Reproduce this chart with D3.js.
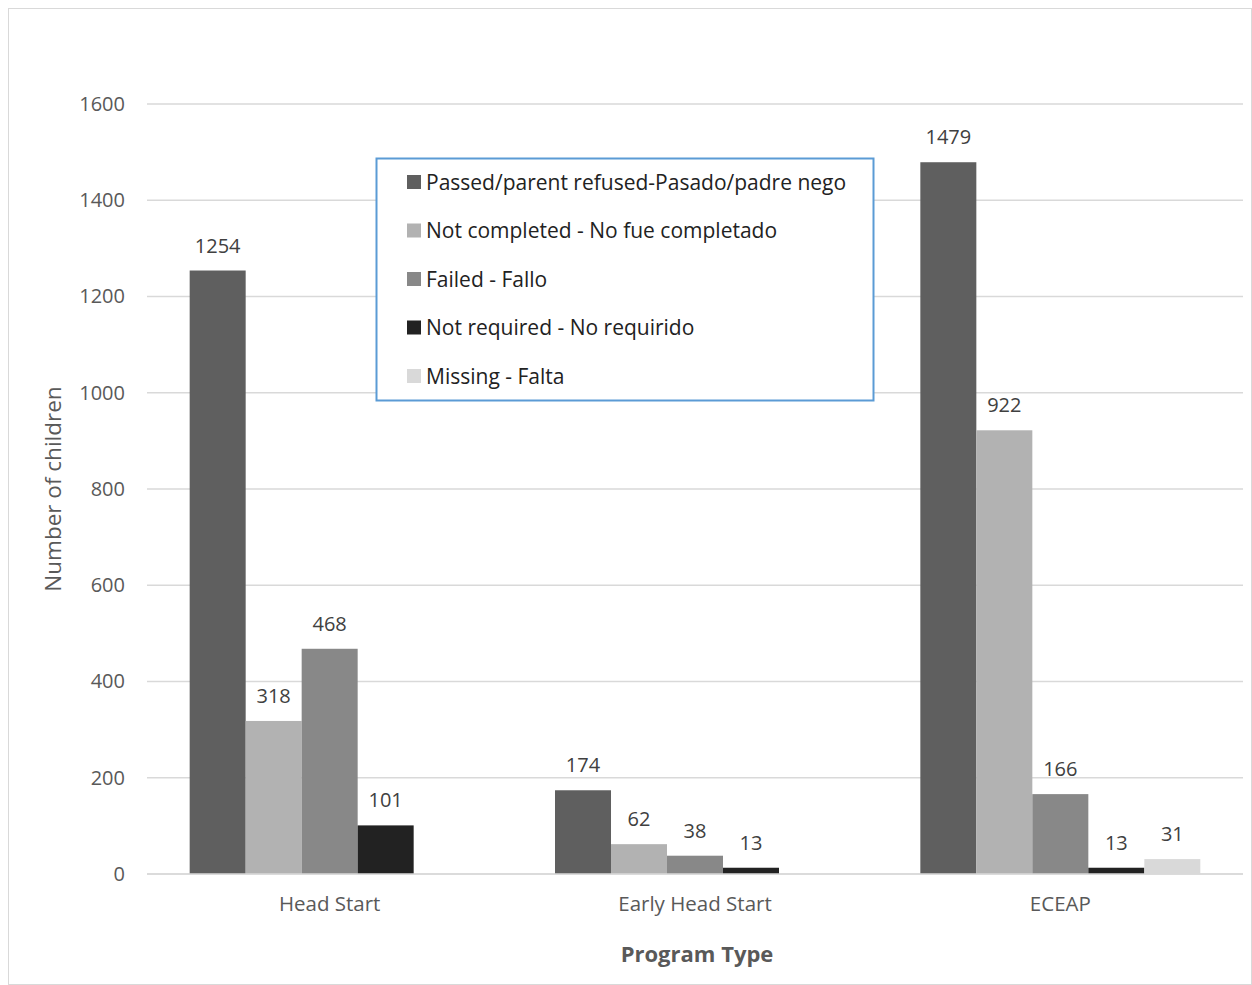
<!DOCTYPE html>
<html>
<head>
<meta charset="utf-8">
<script src="https://cdn.jsdelivr.net/npm/d3@7"></script>
<style>
  body { margin: 0; background: #fff; }
  svg { display: block; font-family: "Open Sans", sans-serif; }
</style>
</head>
<body>
<div id="chart"></div>
<script>
const programs = ["Head Start", "Early Head Start", "ECEAP"];
const seriesNames = [
  "Passed/parent refused-Pasado/padre nego",
  "Not completed - No fue completado",
  "Failed - Fallo",
  "Not required - No requirido",
  "Missing - Falta"
];
const passed = [1254, 174, 1479];
const notCompleted = [318, 62, 922];
const failed = [468, 38, 166];
const notRequired = [101, 13, 13];
const missing = [null, null, 31];
const yTicks = [0, 200, 400, 600, 800, 1000, 1200, 1400, 1600];

const COLORS = ["#5f5f5f", "#b2b2b2", "#888888", "#222222", "#d9d9d9"];
const allSeries = [passed, notCompleted, failed, notRequired, missing];

const W = 1252, H = 985;
const plotLeft = 147, plotRight = 1243, plotTop = 104, plotBottom = 874;

const svg = d3.select("#chart").append("svg")
    .attr("width", W)
    .attr("height", H);

// outer frame
svg.append("rect")
    .attr("x", 8.5).attr("y", 8.5)
    .attr("width", W - 9).attr("height", H - 9)
    .attr("fill", "none")
    .attr("stroke", "#d9d9d9");

const x0 = d3.scaleBand().domain(programs).range([plotLeft, plotRight]).paddingInner(0.2336).paddingOuter(0.1168);
const x1 = d3.scaleBand().domain(d3.range(seriesNames.length)).range([0, x0.bandwidth()]);
const y = d3.scaleLinear().domain([0, 1600]).range([plotBottom, plotTop]);

// gridlines
svg.append("g")
    .selectAll("line")
    .data(yTicks)
    .enter()
    .append("line")
    .attr("x1", plotLeft).attr("x2", plotRight)
    .attr("y1", d => y(d)).attr("y2", d => y(d))
    .attr("stroke", "#d9d9d9")
    .attr("stroke-width", 1.5);

// y axis labels
const yAxis = d3.axisLeft(y).tickValues(yTicks).tickFormat(d3.format("d")).tickSize(0).tickPadding(22);
svg.append("g")
    .attr("transform", `translate(${plotLeft},0)`)
    .call(yAxis)
    .call(g => g.select(".domain").remove())
    .selectAll("text")
    .attr("font-size", 20)
    .attr("font-family", "Open Sans, sans-serif")
    .attr("fill", "#595959");

// x axis labels
const xAxis = d3.axisBottom(x0).tickSize(0).tickPadding(22);
svg.append("g")
    .attr("transform", `translate(0,${plotBottom})`)
    .call(xAxis)
    .call(g => g.select(".domain").remove())
    .selectAll("text")
    .attr("font-size", 20.5)
    .attr("font-family", "Open Sans, sans-serif")
    .attr("fill", "#595959");

// bars
const rows = [];
programs.forEach((p, i) => {
  allSeries.forEach((s, j) => {
    if (s[i] !== null) rows.push({ program: p, series: j, value: s[i] });
  });
});

const bars = svg.append("g");
bars.selectAll("rect")
    .data(rows)
    .enter()
    .append("rect")
    .attr("x", d => x0(d.program) + x1(d.series))
    .attr("y", d => y(d.value))
    .attr("width", x1.bandwidth())
    .attr("height", d => y(0) - y(d.value))
    .attr("fill", d => COLORS[d.series]);

bars.selectAll("text")
    .data(rows)
    .enter()
    .append("text")
    .attr("x", d => x0(d.program) + x1(d.series) + x1.bandwidth() / 2)
    .attr("y", d => y(d.value) - 18)
    .attr("text-anchor", "middle")
    .attr("font-size", 20)
    .attr("fill", "#404040")
    .text(d => d.value);

// baseline
svg.append("line")
    .attr("x1", plotLeft).attr("x2", plotRight)
    .attr("y1", y(0)).attr("y2", y(0))
    .attr("stroke", "#d9d9d9")
    .attr("stroke-width", 1.5);

// axis titles
svg.append("text")
    .attr("transform", `translate(61,${(plotTop + plotBottom) / 2}) rotate(-90)`)
    .attr("text-anchor", "middle")
    .attr("font-size", 22.5)
    .attr("fill", "#595959")
    .text("Number of children");

svg.append("text")
    .attr("x", 697)
    .attr("y", 962)
    .attr("text-anchor", "middle")
    .attr("font-size", 22)
    .attr("font-weight", "bold")
    .attr("fill", "#595959")
    .text("Program Type");

// legend
const legend = svg.append("g");
legend.append("rect")
    .attr("x", 376.5).attr("y", 158.5)
    .attr("width", 497).attr("height", 242)
    .attr("fill", "#fff")
    .attr("stroke", "#5b9bd5")
    .attr("stroke-width", 2);

const items = legend.selectAll("g.item")
    .data(seriesNames)
    .enter()
    .append("g")
    .attr("class", "item")
    .attr("transform", (d, i) => `translate(407,${182 + i * 48.5})`);

items.append("rect")
    .attr("x", 0).attr("y", -7)
    .attr("width", 14).attr("height", 14)
    .attr("fill", (d, i) => COLORS[i]);

items.append("text")
    .attr("x", 19)
    .attr("y", 7.5)
    .attr("font-size", 21)
    .attr("fill", "#222")
    .text(d => d);
</script>
</body>
</html>
